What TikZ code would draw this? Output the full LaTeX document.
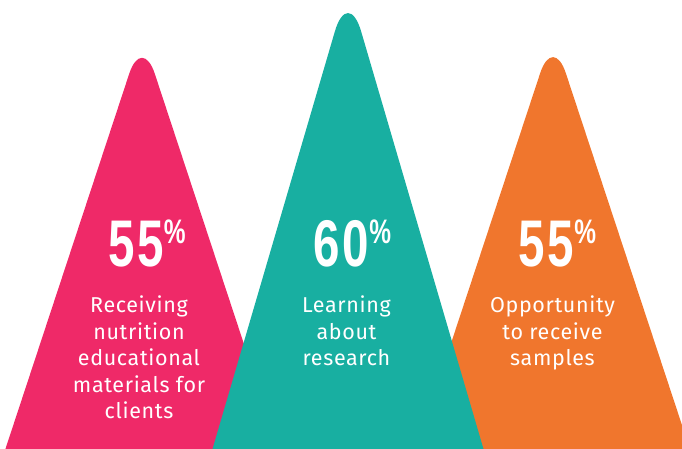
\documentclass[tikz,border=0pt]{standalone}
\usepackage{fontspec}
\usepackage{xcolor}
\setmainfont{Fira Sans}[LetterSpace=3]
\newfontfamily\numfont[FakeStretch=0.72,LetterSpace=4]{Liberation Sans}
\definecolor{pinkc}{HTML}{EF2968}
\definecolor{tealc}{HTML}{18AFA1}
\definecolor{orangec}{HTML}{F0762D}
\newcommand{\pct}[1]{#1\raisebox{23pt}{\fontsize{34}{34}\selectfont\%}}
\tikzset{peak/.style={rounded corners=41pt}}
\tikzset{bignum/.style={text=white,inner sep=0pt,anchor=base,font=\numfont\bfseries\fontsize{66}{66}\selectfont}}
\tikzset{ptext/.style={text=white,inner sep=0pt,anchor=north,align=center,font=\fontsize{21.5}{26.5}\selectfont}}

\begin{document}
\begin{tikzpicture}[x=1pt,y=-1pt]
            \useasboundingbox (0,0) rectangle (682,449);
            \clip (0,0) rectangle (682,449);
            % draw the peaks (the middle one on top)
            \fill[peak,pinkc] (-18,520) -- (142,35) -- (302,520) -- cycle;
            \fill[peak,orangec] (392.7,520) -- (553,34.3) -- (713.3,520) -- cycle;
            \fill[peak,tealc,rounded corners=47pt] (191.7,520) -- (348,-13.4) -- (504.3,520) -- cycle;

            % the numbers
            \node[bignum] (pinknum) at (147,266) {\pct{55}};
            \node[bignum] (tealnum) at (352.5,266) {\pct{60}};
            \node[bignum] (orangenum) at (557.5,266) {\pct{55}};

            % the texts below them
            \node[ptext] (pinktxt) at (139,296) {Receiving\\nutrition\\educational\\materials for\\clients};
            \node[ptext] (tealtxt) at (346.5,296) {Learning\\about\\research};
            \node[ptext] (orangetxt) at (552.5,296) {Opportunity\\to receive\\samples};
        \end{tikzpicture}
\end{document}
